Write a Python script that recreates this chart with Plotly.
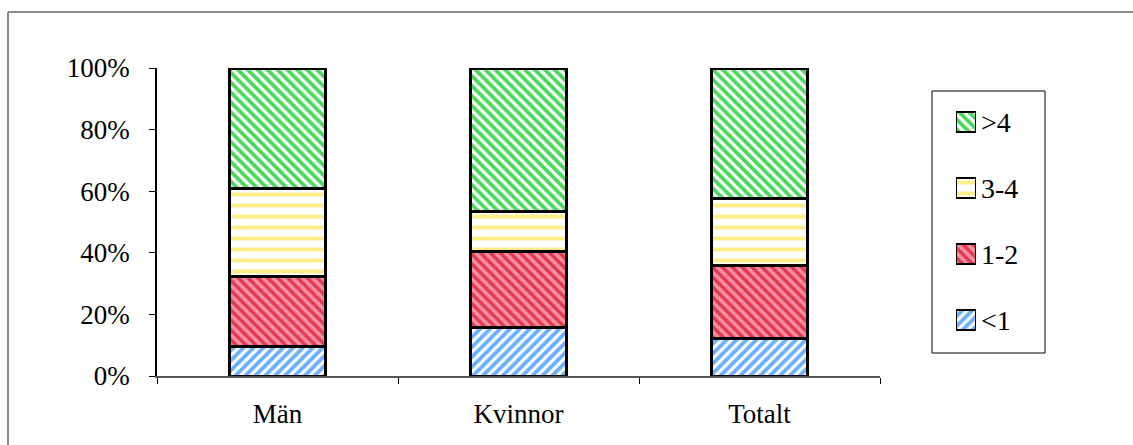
import plotly.graph_objects as go

categories = ["Män", "Kvinnor", "Totalt"]
series_names = ["<1", "1-2", "3-4", ">4"]
share_lt1 = [0.095, 0.158, 0.121]
share_1_2 = [0.227, 0.245, 0.238]
share_3_4 = [0.287, 0.132, 0.217]
share_gt4 = [0.391, 0.465, 0.424]
y_ticks = [0, 0.2, 0.4, 0.6, 0.8, 1.0]

FONT = "Liberation Serif"
W, H = 1133, 445
ML, MR, MT, MB = 157, 0, 68, 69
PW = W - ML - MR          # paper width in px
PH = H - MT - MB          # paper height in px
PLOT_RIGHT = 880          # right end of the bar area, px


def px_x(x):
    return (x - ML) / PW


def px_y(y):
    return (H - MB - y) / PH


styles = [
    dict(shape="/", fg="#6AB0FF", bg="#FFFFFF", size=7, solidity=0.55),
    dict(shape="\\", fg="#E23A4C", bg="#F890A8", size=7, solidity=0.5),
    dict(shape="-", fg="#FFEE88", bg="#FFFFFF", size=11, solidity=0.35),
    dict(shape="\\", fg="#4AD95C", bg="#FFFFFF", size=7, solidity=0.55),
]


def marker_for(st, lw):
    return dict(
        color=st["bg"],
        line=dict(color="#000000", width=lw),
        pattern=dict(shape=st["shape"], fgcolor=st["fg"], bgcolor=st["bg"],
                     size=st["size"], solidity=st["solidity"], fillmode="replace"),
    )


fig = go.Figure()
series_values = [share_lt1, share_1_2, share_3_4, share_gt4]
for name, vals, st in zip(series_names, series_values, styles):
    fig.add_trace(go.Bar(
        name=name, x=categories, y=vals, width=0.4,
        marker=marker_for(st, 3), xaxis="x", yaxis="y",
        hovertemplate="%{x}: %{y:.0%}<extra>" + name + "</extra>",
    ))

# legend swatches: one patterned square per series on a small side axis
for name, st in zip(series_names, styles):
    fig.add_trace(go.Bar(
        x=[1], y=[name], orientation="h", width=0.3,
        marker=marker_for(st, 2), xaxis="x2", yaxis="y2",
        hoverinfo="skip",
    ))
    fig.add_annotation(
        xref="paper", yref="y2", x=px_x(979), y=name, text=name,
        xanchor="left", yanchor="middle", showarrow=False,
        font=dict(family=FONT, size=28, color="#000000"),
    )

# legend frame
fig.add_shape(type="rect", xref="paper", yref="paper",
              x0=px_x(932), x1=px_x(1045), y0=px_y(353), y1=px_y(91),
              line=dict(color="#000000", width=1))

# outer chart frame (top and left edges)
fx, fy = px_x(8), px_y(12)
fig.add_shape(type="line", xref="paper", yref="paper", x0=fx, x1=2.0, y0=fy, y1=fy,
              line=dict(color="#8C8C8C", width=2))
fig.add_shape(type="line", xref="paper", yref="paper", x0=fx, x1=fx, y0=fy, y1=-1.0,
              line=dict(color="#8C8C8C", width=2))

fig.update_layout(
    width=W, height=H,
    margin=dict(l=ML, r=MR, t=MT, b=MB, pad=0),
    paper_bgcolor="#FFFFFF", plot_bgcolor="#FFFFFF",
    barmode="stack",
    font=dict(family=FONT, size=27, color="#000000"),
    showlegend=False,
    xaxis=dict(
        domain=[0, px_x(PLOT_RIGHT)],
        type="category", tickson="boundaries",
        showline=True, linecolor="#555555", linewidth=1.5,
        ticks="outside", ticklen=6, tickcolor="#000000",
        showgrid=False, zeroline=False,
        ticklabelstandoff=13,
    ),
    yaxis=dict(
        range=[0, 1], tickvals=y_ticks, tickformat=".0%",
        showline=True, linecolor="#000000", linewidth=1.5,
        ticks="outside", ticklen=6, tickcolor="#000000",
        showgrid=False, zeroline=False,
        ticklabelstandoff=14,
    ),
    xaxis2=dict(
        domain=[px_x(956), px_x(976)], range=[0, 1], anchor="y2",
        visible=False, fixedrange=True,
    ),
    yaxis2=dict(
        domain=[px_y(353), px_y(89)], type="category",
        categoryorder="array", categoryarray=series_names,
        range=[-0.5, 3.5], anchor="x2",
        visible=False, fixedrange=True,
    ),
)

fig.write_html("out.html")
